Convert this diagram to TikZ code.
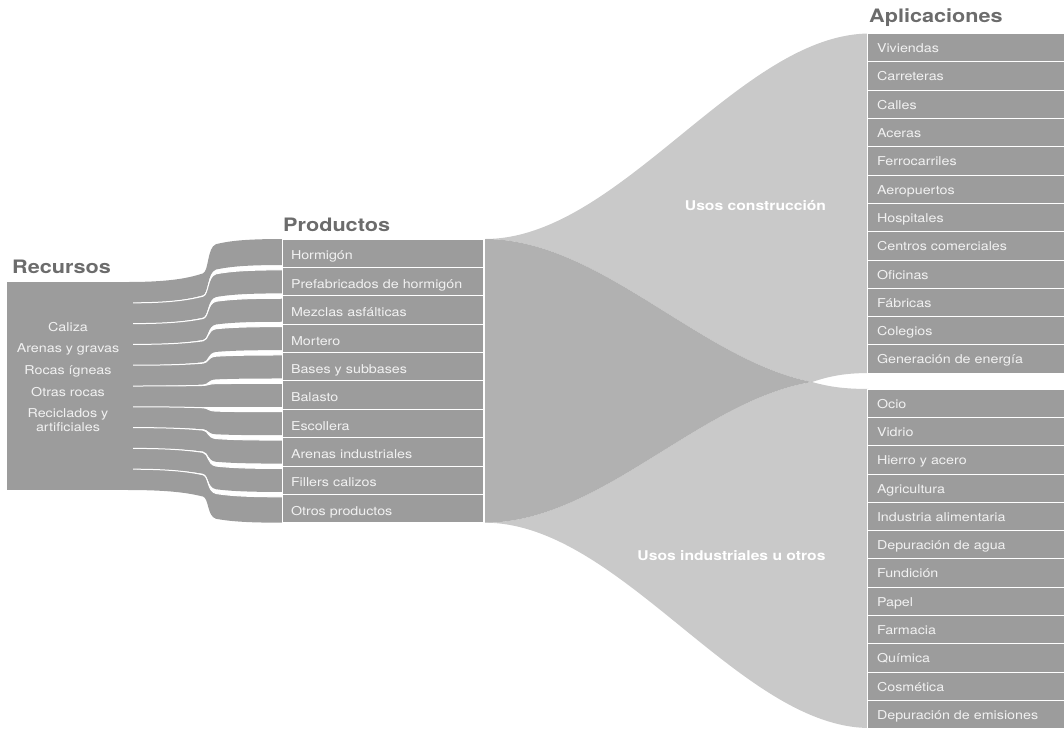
\documentclass[tikz,border=0pt]{standalone}
\usepackage{fontspec}
\setmainfont{TeX Gyre Heros}[FakeStretch=1.17]
\usepackage{tikz}

\definecolor{boxgray}{RGB}{156,156,156}
\definecolor{flowdark}{RGB}{177,177,177}
\definecolor{flowlight}{RGB}{201,201,201}
\definecolor{titlegray}{RGB}{108,108,108}
\definecolor{labelwhite}{RGB}{241,241,241}

\tikzset{
	prodbox/.style={draw=white, line width=0.8pt, fill=boxgray, anchor=north west, outer sep=0pt,
		minimum height=28.37pt, text width=183pt, inner xsep=9pt, inner ysep=0pt,
		text height=14.6pt, text depth=1pt, align=left, text=labelwhite,
		font=\fontsize{12.2}{14}\selectfont},
	appbox/.style={prodbox, minimum height=28.3pt, text width=177pt, inner xsep=10pt, text height=11pt},
	title/.style={anchor=base west, inner sep=0pt, text=titlegray, font=\bfseries\fontsize{18.5}{20}\selectfont},
	reslabel/.style={anchor=base, inner sep=0pt, text=labelwhite, font=\fontsize{12.2}{14}\selectfont},
	flowlabel/.style={inner sep=0pt, text=white, font=\bfseries\fontsize{13.4}{15}\selectfont},
	gapline/.style={white, line width=1pt}
}

\begin{document}
\begin{tikzpicture}[x=1pt, y=-1pt]
			\useasboundingbox (0,0) rectangle (1064,728);
			% flujos hacia las aplicaciones
			\fill[flowlight] (485,239) .. controls (620,239) and (740,33.5) .. (870,33.5) -- (870,373)
				.. controls (845,373) and (830,376) .. (812,382) .. controls (700,360) and (600,239) .. (485,239) -- cycle;
			\fill[flowlight] (485,522.7) .. controls (620,522.7) and (740,728) .. (870,728) -- (870,389)
				.. controls (845,389) and (830,387) .. (812,382) .. controls (700,400) and (600,522.7) .. (485,522.7) -- cycle;
			\fill[flowdark] (485,239) .. controls (600,239) and (700,360) .. (812,382)
				.. controls (700,400) and (600,522.7) .. (485,522.7) -- cycle;
			% recursos y cintas hacia los productos
			\fill[boxgray] (7,282) rectangle (134,490);
			\foreach \k in {0,...,9} {
				\pgfmathsetmacro{\La}{282+20.8*\k}
				\pgfmathsetmacro{\Lb}{282+20.8*(\k+1)}
				\pgfmathsetmacro{\Ra}{\k==0 ? 239 : 241.5+28.37*\k}
				\pgfmathsetmacro{\Rb}{\k==9 ? 522.7 : 265+28.37*\k}
				\pgfmathsetmacro{\da}{\Ra-\La}
				\pgfmathsetmacro{\db}{\Rb-\Lb}
				\fill[boxgray] (128,\La) .. controls (175,\La) and (192,{\La+0.12*(\da)}) .. (203,{\La+0.2*(\da)})
					.. controls (209,{\La+0.26*(\da)}) and (207,{\La+0.8*(\da)}) .. (216,{\La+0.88*(\da)})
					.. controls (232,{\La+0.97*(\da)}) and (250,\Ra) .. (285,\Ra) -- (285,\Rb)
					.. controls (250,\Rb) and (232,{\Lb+0.97*(\db)}) .. (216,{\Lb+0.88*(\db)})
					.. controls (207,{\Lb+0.8*(\db)}) and (209,{\Lb+0.26*(\db)}) .. (203,{\Lb+0.2*(\db)})
					.. controls (192,{\Lb+0.12*(\db)}) and (175,\Lb) .. (128,\Lb) -- cycle;
				\ifnum\k>0
					\draw[gapline] (133,\La) .. controls (175,\La) and (192,{\La+0.12*(\da)}) .. (203,{\La+0.2*(\da)})
						.. controls (209,{\La+0.26*(\da)}) and (207,{\La+0.8*(\da)}) .. (216,{\La+0.88*(\da)})
						.. controls (232,{\La+0.97*(\da)}) and (250,\Ra) .. (285,\Ra);
				\fi
			}
			% titulos
			\node[title] (recursos) at (12,273) {Recursos};
			\node[title] (productos) at (283,231) {Productos};
			\node[title] (aplicaciones) at (869,22) {Aplicaciones};
			% recursos
			\node[reslabel] (caliza) at (68,331) {Caliza};
			\node[reslabel] (arenas) at (68,352.5) {Arenas y gravas};
			\node[reslabel] (rocas) at (68,374) {Rocas ígneas};
			\node[reslabel] (otras) at (68,396) {Otras rocas};
			\node[reslabel] (recicl) at (68,417.5) {Reciclados y};
			\node[reslabel] (artif) at (68,431.5) {artificiales};
			% productos
			\node[prodbox] (p1) at (282,239) {Hormigón};
			\node[prodbox] (p2) at (p1.south west) {Prefabricados de hormigón};
			\node[prodbox] (p3) at (p2.south west) {Mezclas asfálticas};
			\node[prodbox] (p4) at (p3.south west) {Mortero};
			\node[prodbox] (p5) at (p4.south west) {Bases y subbases};
			\node[prodbox] (p6) at (p5.south west) {Balasto};
			\node[prodbox] (p7) at (p6.south west) {Escollera};
			\node[prodbox] (p8) at (p7.south west) {Arenas industriales};
			\node[prodbox] (p9) at (p8.south west) {Fillers calizos};
			\node[prodbox] (p10) at (p9.south west) {Otros productos};
			% usos
			\node[flowlabel] (construccion) at (755.5,206) {Usos construcción};
			\node[flowlabel] (industriales) at (731.5,556) {Usos industriales u otros};
			% aplicaciones de construccion
			\node[appbox] (a1) at (867,33.5) {Viviendas};
			\node[appbox] (a2) at (a1.south west) {Carreteras};
			\node[appbox] (a3) at (a2.south west) {Calles};
			\node[appbox] (a4) at (a3.south west) {Aceras};
			\node[appbox] (a5) at (a4.south west) {Ferrocarriles};
			\node[appbox] (a6) at (a5.south west) {Aeropuertos};
			\node[appbox] (a7) at (a6.south west) {Hospitales};
			\node[appbox] (a8) at (a7.south west) {Centros comerciales};
			\node[appbox] (a9) at (a8.south west) {Oficinas};
			\node[appbox] (a10) at (a9.south west) {Fábricas};
			\node[appbox] (a11) at (a10.south west) {Colegios};
			\node[appbox] (a12) at (a11.south west) {Generación de energía};
			% aplicaciones industriales
			\node[appbox] (b1) at (867,389) {Ocio};
			\node[appbox] (b2) at (b1.south west) {Vidrio};
			\node[appbox] (b3) at (b2.south west) {Hierro y acero};
			\node[appbox] (b4) at (b3.south west) {Agricultura};
			\node[appbox] (b5) at (b4.south west) {Industria alimentaria};
			\node[appbox] (b6) at (b5.south west) {Depuración de agua};
			\node[appbox] (b7) at (b6.south west) {Fundición};
			\node[appbox] (b8) at (b7.south west) {Papel};
			\node[appbox] (b9) at (b8.south west) {Farmacia};
			\node[appbox] (b10) at (b9.south west) {Química};
			\node[appbox] (b11) at (b10.south west) {Cosmética};
			\node[appbox] (b12) at (b11.south west) {Depuración de emisiones};
		\end{tikzpicture}
\end{document}
